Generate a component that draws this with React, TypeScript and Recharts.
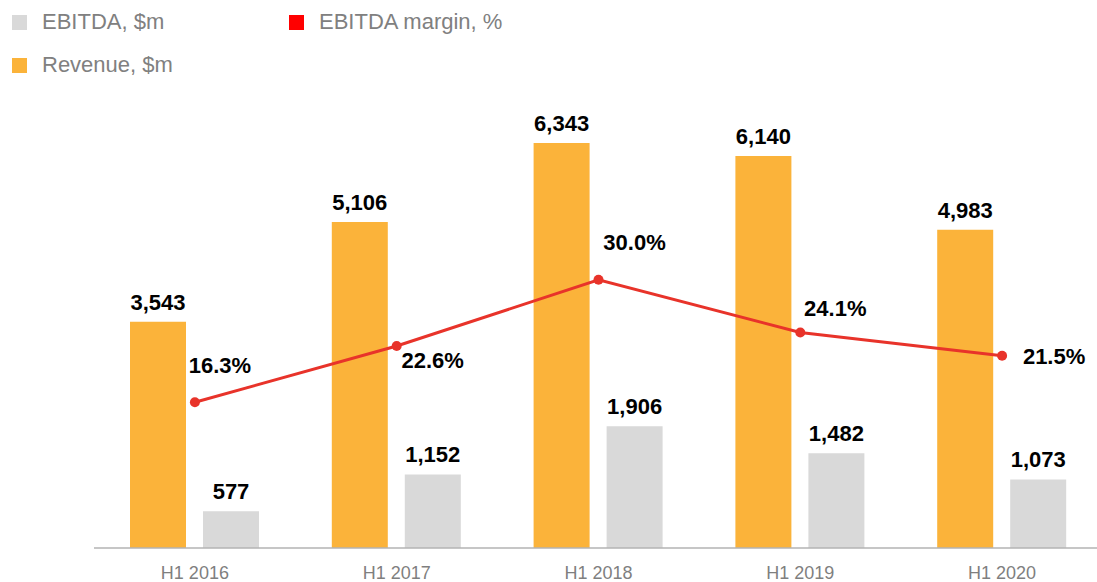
import React from 'react';
import { ComposedChart, Bar, Line, XAxis, YAxis, LabelList } from 'recharts';

const periods = ['H1 2016', 'H1 2017', 'H1 2018', 'H1 2019', 'H1 2020'];
const revenue = [3543, 5106, 6343, 6140, 4983];
const ebitda = [577, 1152, 1906, 1482, 1073];
const margin = [16.3, 22.6, 30.0, 24.1, 21.5];

// where each margin label sits relative to its point
const marginLabelShift = [
  { dx: 25, dy: -37 },
  { dx: 36, dy: 15 },
  { dx: 36, dy: -37 },
  { dx: 35, dy: -24 },
  { dx: 52, dy: 1 },
];

const data = periods.map((p, i) => ({
  period: p,
  revenue: revenue[i],
  ebitda: ebitda[i],
  margin: margin[i],
}));

const FONT = '"Liberation Sans", Arial, sans-serif';

const MarginLabel = (props: any) => {
  const { x, y, index, value } = props;
  const s = marginLabelShift[index] || { dx: 30, dy: -20 };
  return (
    <text
      x={x + s.dx}
      y={y + s.dy}
      textAnchor="middle"
      dominantBaseline="central"
      fill="#000"
      fontSize={22}
      fontWeight="bold"
      fontFamily={FONT}
    >
      {Number(value).toFixed(1)}%
    </text>
  );
};

const LegendItem = ({ color, label, x, y }: { color: string; label: string; x: number; y: number }) => (
  <div style={{ position: 'absolute', left: x, top: y, display: 'flex', alignItems: 'center' }}>
    <div style={{ width: 15, height: 15, background: color, marginRight: 15 }} />
    <span style={{ fontSize: 22, color: '#808080', fontFamily: FONT }}>{label}</span>
  </div>
);

const fmt = (v: any) => Number(v).toLocaleString('en-US');

const App: React.FC = () => {
  return (
    <div
      style={{
        position: 'absolute',
        left: 0,
        top: 0,
        width: 1097,
        height: 582,
        overflow: 'hidden',
        background: '#fff',
        fontFamily: FONT,
      }}
    >
      <LegendItem color="#D9D9D9" label="EBITDA, $m" x={12} y={9} />
      <LegendItem color="#FF0000" label="EBITDA margin, %" x={289} y={9} />
      <LegendItem color="#FBB33A" label="Revenue, $m" x={12} y={52} />
      <div style={{ position: 'absolute', left: 0, top: 0 }}>
        <ComposedChart
          width={1110}
          height={582}
          data={data}
          margin={{ top: 101, right: 7, left: 94, bottom: 0 }}
          barGap={17}
        >
          <XAxis
            dataKey="period"
            height={34}
            tickLine={false}
            axisLine={{ stroke: '#b3b3b3', strokeWidth: 1.5 }}
            tickMargin={12}
            tick={{ fontSize: 18, fill: '#7f7f7f', fontFamily: FONT }}
          />
          <YAxis yAxisId="left" hide domain={[0, 7000]} />
          <YAxis yAxisId="right" hide orientation="right" domain={[0, 50]} />
          <Bar yAxisId="left" dataKey="revenue" fill="#FBB33A" barSize={56} isAnimationActive={false}>
            <LabelList
              dataKey="revenue"
              position="top"
              offset={12}
              formatter={fmt}
              fill="#000"
              fontSize={22}
              fontWeight="bold"
              fontFamily={FONT}
            />
          </Bar>
          <Bar yAxisId="left" dataKey="ebitda" fill="#D9D9D9" barSize={56} isAnimationActive={false}>
            <LabelList
              dataKey="ebitda"
              position="top"
              offset={12}
              formatter={fmt}
              fill="#000"
              fontSize={22}
              fontWeight="bold"
              fontFamily={FONT}
            />
          </Bar>
          <Line
            yAxisId="right"
            dataKey="margin"
            stroke="#E8332A"
            strokeWidth={3}
            dot={{ r: 5, fill: '#E8332A', stroke: '#E8332A', strokeWidth: 0 }}
            isAnimationActive={false}
          >
            <LabelList dataKey="margin" content={<MarginLabel />} />
          </Line>
        </ComposedChart>
      </div>
    </div>
  );
};

export default App;
